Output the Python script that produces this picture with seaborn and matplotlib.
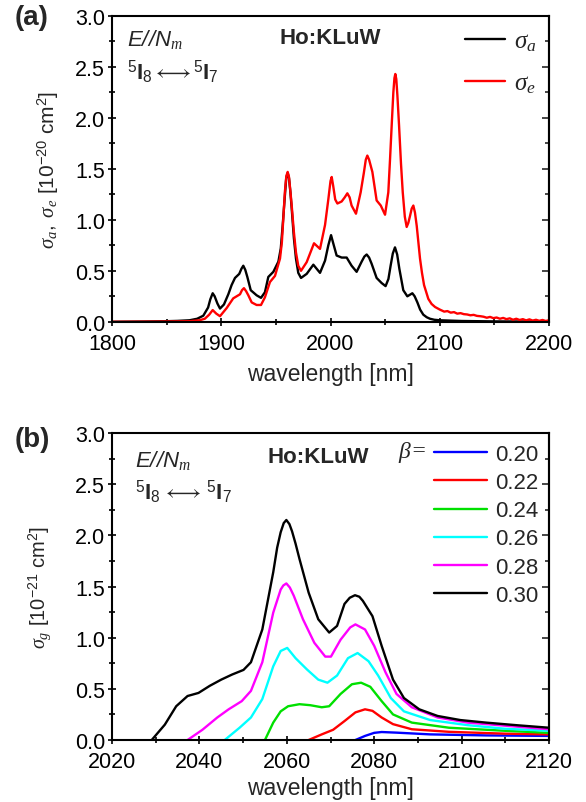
import matplotlib
matplotlib.use("Agg")
import matplotlib.pyplot as plt
import seaborn as sns
from matplotlib.ticker import MultipleLocator

# panel (a): absorption / emission cross sections, 1e-20 cm2
wl_abs = [1800, 1830, 1850, 1860, 1871, 1878, 1883.6, 1888, 1890, 1892.2, 1894, 1896.5, 1898.9,
          1902.5, 1906.5, 1909.5, 1912.6, 1916.5, 1918.5, 1920.2, 1922, 1923.9, 1927, 1932.4,
          1936.4, 1940, 1943.1, 1947.7, 1952.3, 1954.5, 1956.2, 1958, 1959.5, 1960.8, 1962,
          1963.3, 1964.5, 1966.5, 1968.4, 1970.5, 1973, 1978.2, 1984.3, 1990.4, 1995, 1998,
          2000.5, 2002.5, 2005.6, 2010.2, 2014.8, 2019.3, 2023.9, 2028.5, 2031, 2033.1, 2035.3,
          2037.6, 2042.2, 2046.8, 2050.4, 2053, 2055, 2057, 2059, 2061, 2063, 2066.6, 2070.3,
          2072.6, 2074.9, 2077, 2079.5, 2082, 2084.9, 2088, 2091, 2095, 2100.2, 2120, 2150, 2200]
sig_abs = [0.0, 0.003, 0.006, 0.009, 0.015, 0.03, 0.06, 0.14, 0.22, 0.28, 0.25, 0.18, 0.13,
           0.17, 0.27, 0.36, 0.43, 0.47, 0.52, 0.55, 0.51, 0.44, 0.31, 0.26,
           0.235, 0.29, 0.44, 0.49, 0.59, 0.72, 0.94, 1.2, 1.41, 1.46, 1.41,
           1.27, 1.11, 0.82, 0.62, 0.48, 0.43, 0.47, 0.56, 0.48, 0.6, 0.75,
           0.85, 0.77, 0.65, 0.63, 0.63, 0.55, 0.49, 0.59, 0.64, 0.66, 0.63,
           0.57, 0.43, 0.38, 0.35, 0.42, 0.55, 0.67, 0.73, 0.66, 0.52, 0.31, 0.25,
           0.265, 0.28, 0.25, 0.19, 0.12, 0.07, 0.045, 0.03, 0.02, 0.015, 0.008, 0.004, 0.002]

wl_em = [1800, 1840, 1860, 1871, 1880, 1885, 1889, 1892.2, 1895.5, 1898.9, 1905, 1911, 1917.2,
         1919, 1920.8, 1922.8, 1924.8, 1927.9, 1932.4, 1936.4, 1940, 1944.6, 1949.2, 1953.8,
         1955.5, 1956.8, 1958.3, 1959.6, 1960.8, 1962, 1963.3, 1964.5, 1966.5, 1968.4, 1970.5,
         1973, 1978.2, 1984.9, 1990.4, 1995, 1998, 2000, 2001.1, 2002.5, 2004.3, 2006.3, 2010.2,
         2013, 2015.4, 2017.5, 2019.3, 2023.3, 2027.6, 2030.5, 2032.3, 2033.7, 2035.3, 2036.8,
         2038.3, 2042.2, 2046, 2049.9, 2052.9, 2054.5, 2056, 2057.5, 2058.5, 2059.3, 2060.2,
         2061.2, 2062.7, 2064.5, 2066.1, 2068, 2069.7, 2071.2, 2072.8, 2074.3, 2075.8, 2077.3,
         2078.9, 2080.4, 2081.9, 2083.7, 2085.6, 2089.5, 2092.5, 2095.7, 2100, 2104, 2107, 2110,
         2113, 2116, 2119, 2122, 2125, 2128, 2131, 2134, 2137, 2140, 2143, 2146, 2149, 2152,
         2155, 2158, 2161, 2164, 2167, 2170, 2173, 2176, 2179, 2182, 2185, 2188, 2191, 2194,
         2197, 2200]
sig_em = [0.0, 0.002, 0.004, 0.006, 0.015, 0.03, 0.07, 0.115, 0.08, 0.055, 0.135, 0.23, 0.27,
          0.31, 0.33, 0.3, 0.26, 0.19, 0.165, 0.165, 0.24, 0.39, 0.45, 0.62,
          0.78, 1.01, 1.28, 1.43, 1.47, 1.42, 1.28, 1.14, 0.88, 0.68, 0.55,
          0.5, 0.585, 0.77, 0.715, 0.95, 1.2, 1.38, 1.42, 1.33, 1.2, 1.16, 1.18,
          1.22, 1.26, 1.22, 1.14, 1.06, 1.27, 1.46, 1.59, 1.63, 1.59, 1.53,
          1.47, 1.19, 1.14, 1.05, 1.27, 1.6, 1.93, 2.25, 2.39, 2.43, 2.38,
          2.22, 1.93, 1.55, 1.27, 1.03, 0.93, 0.97, 1.04, 1.11, 1.14, 1.07,
          0.94, 0.78, 0.62, 0.48, 0.36, 0.225, 0.175, 0.145, 0.12, 0.10, 0.105, 0.09,
          0.095, 0.08, 0.085, 0.075, 0.072, 0.064, 0.068, 0.058, 0.055, 0.05, 0.04, 0.048, 0.036, 0.042,
          0.03, 0.038, 0.026, 0.034, 0.02, 0.03, 0.018, 0.026, 0.014, 0.024, 0.012, 0.02, 0.01, 0.018,
          0.008, 0.016]

# panel (b): gain cross sections, 1e-21 cm2, for each inversion ratio beta
betas = ["0.20", "0.22", "0.24", "0.26", "0.28", "0.30"]
colors = ["#0000ff", "#ff0000", "#00e000", "#00ffff", "#ff00ff", "#000000"]

wl_b20 = [2075.7, 2077.9, 2080, 2081.7, 2085.1, 2092.8, 2105.6, 2120]
g_b20 = [0.0, 0.04, 0.07, 0.078, 0.072, 0.055, 0.045, 0.04]

wl_b22 = [2065, 2068, 2070.6, 2073.2, 2075.7, 2077.9, 2079.6, 2081.7, 2084.3, 2088.6, 2097.1,
          2109.9, 2120]
g_b22 = [0.0, 0.055, 0.10, 0.185, 0.27, 0.30, 0.285, 0.22, 0.155, 0.105, 0.08, 0.062, 0.055]

wl_b24 = [2055, 2056.9, 2058.6, 2060.3, 2062.9, 2065.4, 2068, 2069.7, 2072.3, 2074.9, 2077,
          2079.1, 2081.7, 2084.3, 2088.6, 2097.1, 2109.9, 2120]
g_b24 = [0.0, 0.17, 0.28, 0.33, 0.35, 0.34, 0.32, 0.33, 0.45, 0.545, 0.56, 0.52, 0.38, 0.25,
         0.17, 0.12, 0.09, 0.07]

wl_b26 = [2045.8, 2049.2, 2051.8, 2054.4, 2056.9, 2058.6, 2060.1, 2062, 2064.6, 2067.2, 2069.3,
          2071.5, 2074, 2076.2, 2078.7, 2080.9, 2083.8, 2086.8, 2092.8, 2101.4, 2109.9, 2120]
g_b26 = [0.0, 0.12, 0.22, 0.40, 0.72, 0.87, 0.90, 0.80, 0.69, 0.59, 0.56, 0.63, 0.80, 0.85, 0.77,
         0.63, 0.41, 0.28, 0.195, 0.145, 0.11, 0.09]

wl_b28 = [2037.3, 2040.7, 2044.1, 2046.7, 2049.7, 2051.8, 2054.4, 2056.9, 2058.6, 2059.2, 2059.9,
          2060.7, 2061.6, 2063.7, 2066.3, 2068.8, 2070.1, 2072.3, 2074.5, 2075.7, 2077.9, 2080,
          2082.6, 2085.1, 2088.6, 2094.5, 2101.4, 2109.9, 2120]
g_b28 = [0.0, 0.10, 0.22, 0.30, 0.38, 0.48, 0.76, 1.245, 1.47, 1.51, 1.53, 1.49, 1.41, 1.18, 0.95,
         0.815, 0.815, 0.98, 1.10, 1.13, 1.08, 0.92, 0.66, 0.45, 0.32, 0.22, 0.17, 0.14, 0.105]

wl_b30 = [2029.1, 2032.1, 2034.7, 2037.3, 2039.8, 2042.4, 2045, 2047.5, 2050.1, 2051.8, 2054.4,
          2056.9, 2057.8, 2058.6, 2059.3, 2059.9, 2060.6, 2061.2, 2062, 2062.9, 2065, 2067.2,
          2069.7, 2071.5, 2073.2, 2074.4, 2075.6, 2076.6, 2077.4, 2079.6, 2081.7, 2084.3, 2086.8,
          2090.3, 2094.5, 2099.7, 2105.6, 2112.5, 2120]
g_b30 = [0.0, 0.15, 0.33, 0.43, 0.46, 0.53, 0.59, 0.64, 0.685, 0.76, 1.08, 1.64, 1.88, 2.03, 2.12,
         2.15, 2.11, 2.04, 1.92, 1.77, 1.44, 1.18, 1.05, 1.115, 1.33, 1.39, 1.415, 1.40, 1.36, 1.21,
         0.92, 0.59, 0.41, 0.30, 0.235, 0.195, 0.17, 0.145, 0.12]

gain_wl = [wl_b20, wl_b22, wl_b24, wl_b26, wl_b28, wl_b30]
gain_val = [g_b20, g_b22, g_b24, g_b26, g_b28, g_b30]

sns.set_theme(style="ticks")
plt.rcParams["font.family"] = ["Liberation Sans", "DejaVu Sans"]
plt.rcParams["mathtext.fontset"] = "custom"
plt.rcParams["mathtext.rm"] = "Liberation Sans"
plt.rcParams["mathtext.it"] = "Liberation Serif:italic"
plt.rcParams["mathtext.bf"] = "Liberation Sans:bold"
plt.rcParams["mathtext.sf"] = "Liberation Sans:italic"
plt.rcParams["lines.solid_joinstyle"] = "round"

fig = plt.figure(figsize=(5.86, 8.03), dpi=100)
ax1 = fig.add_axes([0.191, 0.598, 0.746, 0.381])
ax2 = fig.add_axes([0.191, 0.0772, 0.746, 0.3823])


def style_axis(ax):
    for s in ax.spines.values():
        s.set_linewidth(1.5)
        s.set_color("black")
    ax.tick_params(which="both", direction="inout", colors="black", labelsize=15.5,
                   top=False, right=False, width=1.2)
    ax.tick_params(axis="x", pad=5)
    ax.tick_params(axis="y", pad=2)
    ax.tick_params(which="major", length=6)
    ax.tick_params(which="minor", length=4)
    sec = ax.secondary_yaxis("right")
    sec.set_yticks(ax.get_yticks())
    sec.yaxis.set_minor_locator(MultipleLocator(0.25))
    sec.tick_params(which="both", direction="in", labelright=False, width=1.2)
    sec.tick_params(which="major", length=5)
    sec.tick_params(which="minor", length=3)
    sec.spines["right"].set_linewidth(1.5)


# panel (a)
sns.lineplot(x=wl_abs, y=sig_abs, color="black", lw=1.7, ax=ax1, label=r"$\sigma_a$")
sns.lineplot(x=wl_em, y=sig_em, color="red", lw=1.7, ax=ax1, label=r"$\sigma_e$")
ax1.set_xlim(1800, 2200)
ax1.set_ylim(0, 3.0)
ax1.set_xticks([1800, 1900, 2000, 2100, 2200])
ax1.set_yticks([0, 0.5, 1.0, 1.5, 2.0, 2.5, 3.0])
ax1.set_yticklabels(["0.0", "0.5", "1.0", "1.5", "2.0", "2.5", "3.0"])
ax1.xaxis.set_minor_locator(MultipleLocator(50))
ax1.yaxis.set_minor_locator(MultipleLocator(0.25))
style_axis(ax1)
ax1.set_xlabel("wavelength [nm]", fontsize=16.5, labelpad=6)
ax1.set_ylabel(r"$\sigma_a,\ \sigma_e$ [10$^{\mathrm{-20}}$ cm$^{\mathrm{2}}$]", fontsize=15, labelpad=10)
ax1.legend(loc="upper right", frameon=False, fontsize=18, handlelength=1.6,
           handletextpad=0.35, labelspacing=0.7, borderaxespad=0.1)
ax1.text(0.034, 0.925, r"$\mathsf{E//N}_m$", transform=ax1.transAxes, fontsize=16, va="center")
ax1.text(0.034, 0.82, r"$^5\mathbf{I}_8\longleftrightarrow^5\mathbf{I}_7$",
         transform=ax1.transAxes, fontsize=16, va="center")
ax1.text(0.50, 0.928, "Ho:KLuW", transform=ax1.transAxes, fontsize=16, fontweight="bold",
         ha="center", va="center")
fig.text(0.025, 0.977, "(a)", fontsize=20, fontweight="bold", va="center")

# panel (b)
for lab, col, xs, ys in zip(betas, colors, gain_wl, gain_val):
    sns.lineplot(x=xs, y=ys, color=col, lw=1.7, ax=ax2, label=lab)
ax2.set_xlim(2020, 2120)
ax2.set_ylim(0, 3.0)
ax2.set_xticks([2020, 2040, 2060, 2080, 2100, 2120])
ax2.set_yticks([0, 0.5, 1.0, 1.5, 2.0, 2.5, 3.0])
ax2.set_yticklabels(["0.0", "0.5", "1.0", "1.5", "2.0", "2.5", "3.0"])
ax2.xaxis.set_minor_locator(MultipleLocator(10))
ax2.yaxis.set_minor_locator(MultipleLocator(0.25))
style_axis(ax2)
ax2.set_xlabel("wavelength [nm]", fontsize=16.5, labelpad=3)
ax2.set_ylabel(r"$\sigma_g$ [10$^{\mathrm{-21}}$ cm$^{\mathrm{2}}$]", fontsize=14.5, labelpad=16)
ax2.legend(loc="upper right", frameon=False, fontsize=16, handlelength=2.4,
           handletextpad=0.35, labelspacing=0.32, borderaxespad=0.1)
ax2.text(0.655, 0.94, r"$\beta$=", transform=ax2.transAxes, fontsize=17, va="center",
         family="Liberation Serif", style="italic")
ax2.text(0.053, 0.915, r"$\mathsf{E//N}_m$", transform=ax2.transAxes, fontsize=16, va="center")
ax2.text(0.053, 0.811, r"$^5\mathbf{I}_8\,\longleftrightarrow\,^5\mathbf{I}_7$",
         transform=ax2.transAxes, fontsize=16, va="center")
ax2.text(0.471, 0.925, "Ho:KLuW", transform=ax2.transAxes, fontsize=16, fontweight="bold",
         ha="center", va="center")
fig.text(0.025, 0.452, "(b)", fontsize=20, fontweight="bold", va="center")

fig.savefig("out.png", dpi=100)
